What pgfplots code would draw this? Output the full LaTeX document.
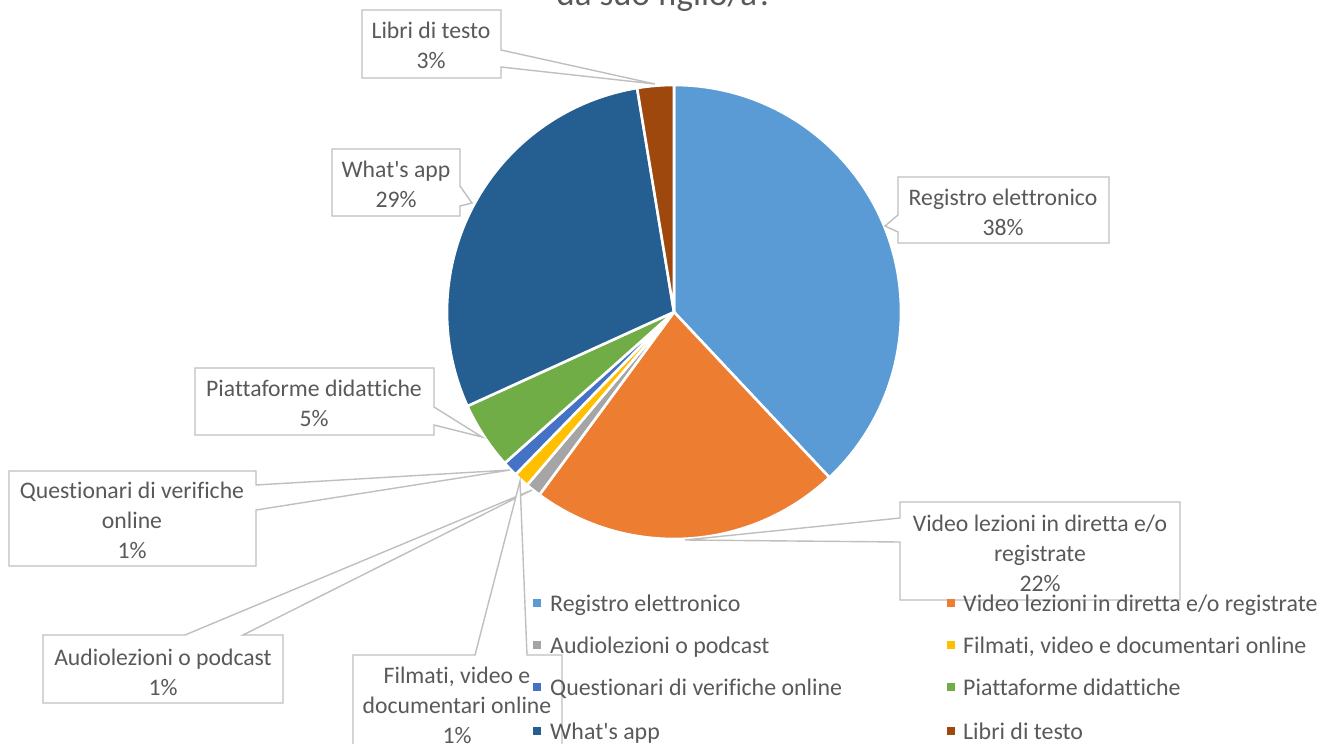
\documentclass[border=0pt]{standalone}
\usepackage{fontspec}
\setmainfont{Carlito}[Ligatures={NoCommon}]
\usepackage{pgfplots}
\usepackage{pgfplotstable}
\pgfplotsset{compat=1.18}
\definecolor{c1}{HTML}{5B9BD5}
\definecolor{c2}{HTML}{ED7D31}
\definecolor{c3}{HTML}{A5A5A5}
\definecolor{c4}{HTML}{FFC000}
\definecolor{c5}{HTML}{4472C4}
\definecolor{c6}{HTML}{70AD47}
\definecolor{c7}{HTML}{255E91}
\definecolor{c8}{HTML}{9E480E}
\definecolor{txtgray}{HTML}{595959}
\definecolor{boxgray}{HTML}{BFBFBF}
\newcommand\apo{\XeTeXglyph\XeTeXcharglyph"0027\relax}
% share of each answer (percent), in pie order (clockwise from 12 o'clock)
\pgfplotstableread{
val col
38.0 c1
22.1 c2
1.1 c3
1.1 c4
1.1 c5
4.8 c6
29.2 c7
2.6 c8
}\piedata
\begin{document}
\begin{tikzpicture}[
  lbl/.style={font=\fontsize{23.7}{30}\selectfont, text=txtgray, align=center, inner sep=0pt},
  leg/.style={font=\fontsize{23.9}{30}\selectfont, text=txtgray, anchor=base west, inner sep=0pt},
  callout/.style={draw=boxgray, fill=white, line width=1.4pt, line join=miter}]
\useasboundingbox (0,0) rectangle (1326pt,744pt);
\clip (0,0) rectangle (1326pt,744pt);
\begin{axis}[at={(0,0)}, anchor=south west,
  width=1326pt, height=744pt, scale only axis,
  xmin=0, xmax=1326, ymin=0, ymax=744, y dir=reverse,
  hide axis, clip=false]
% pie slices
\def\cum{0}
\pgfplotsforeachungrouped \ii in {0,...,7}{%
  \pgfplotstablegetelem{\ii}{val}\of\piedata \let\slval\pgfplotsretval
  \pgfplotstablegetelem{\ii}{col}\of\piedata \let\slcol\pgfplotsretval
  \pgfmathsetmacro\angA{90-3.6*\cum}%
  \pgfmathsetmacro\angB{90-3.6*(\cum+\slval)}%
  \edef\tmp{\noexpand\fill[\slcol, draw=white, line width=2.6pt, line join=round] (axis cs:674,312) -- ++(\angA:227pt) arc[start angle=\angA, end angle=\angB, radius=227pt] -- cycle;}%
  \tmp
  \pgfmathsetmacro\cum{\cum+\slval}%
}
% title (cut off at the top)
\node[font=\fontsize{35}{42}\selectfont, text=txtgray, anchor=base] at (axis cs:665,5) {da suo figlio/a?};
% callouts
\draw[callout] (362,10) -- (501,10) -- (501,50) -- (655,84) -- (501,67) -- (501,78) -- (362,78) -- cycle;
\node[lbl] at (431,45) {Libri di testo\\3\%};
\draw[callout] (898,177) -- (1109,177) -- (1109,243) -- (898,243) -- (898,232) -- (885,226) -- (898,215) -- cycle;
\node[lbl] at (1003,212) {Registro elettronico\\38\%};
\draw[callout] (900,502) -- (1180,502) -- (1180,600) -- (900,600) -- (900,542) -- (685,540) -- (900,518) -- cycle;
\node[lbl] at (1040,553) {Video lezioni in diretta e/o\\registrate\\22\%};
\draw[callout] (332,149) -- (460,149) -- (460,186) -- (472,203) -- (460,206) -- (460,216) -- (332,216) -- cycle;
\node[lbl] at (396,184) {What\apo s app\\29\%};
\draw[callout] (195,368) -- (434,368) -- (434,407) -- (482,437) -- (434,425) -- (434,435) -- (195,435) -- cycle;
\node[lbl] at (314,403) {Piattaforme didattiche\\5\%};
\draw[callout] (9,471) -- (256,471) -- (256,485) -- (510,470) -- (256,510) -- (256,566) -- (9,566) -- cycle;
\node[lbl] at (132,520) {Questionari di verifiche\\online\\1\%};
\draw[callout] (43,635) -- (185,635) -- (532,490) -- (243,635) -- (283,635) -- (283,703) -- (43,703) -- cycle;
\node[lbl] at (163,672) {Audiolezioni o podcast\\1\%};
\draw[callout] (353,655) -- (475,655) -- (520,481) -- (527,655) -- (562,655) -- (562,770) -- (353,770) -- cycle;
\node[lbl] at (457,705) {Filmati, video e\\documentari online\\1\%};
% legend
\fill[c1] (533,599) rectangle (541,607); \node[leg] at (550,611) {Registro elettronico};
\fill[c3] (533,641) rectangle (541,649); \node[leg] at (550,653) {Audiolezioni o podcast};
\fill[c5] (533,683) rectangle (541,691); \node[leg] at (550,695) {Questionari di verifiche online};
\fill[c7] (533,727) rectangle (541,735); \node[leg] at (550,739) {What\apo s app};
\fill[c2] (947,599) rectangle (955,607); \node[leg] at (963,611) {Video lezioni in diretta e/o registrate};
\fill[c4] (947,641) rectangle (955,649); \node[leg] at (963,653) {Filmati, video e documentari online};
\fill[c6] (947,683) rectangle (955,691); \node[leg] at (963,695) {Piattaforme didattiche};
\fill[c8] (947,727) rectangle (955,735); \node[leg] at (963,739) {Libri di testo};
\end{axis}
\end{tikzpicture}
\end{document}
